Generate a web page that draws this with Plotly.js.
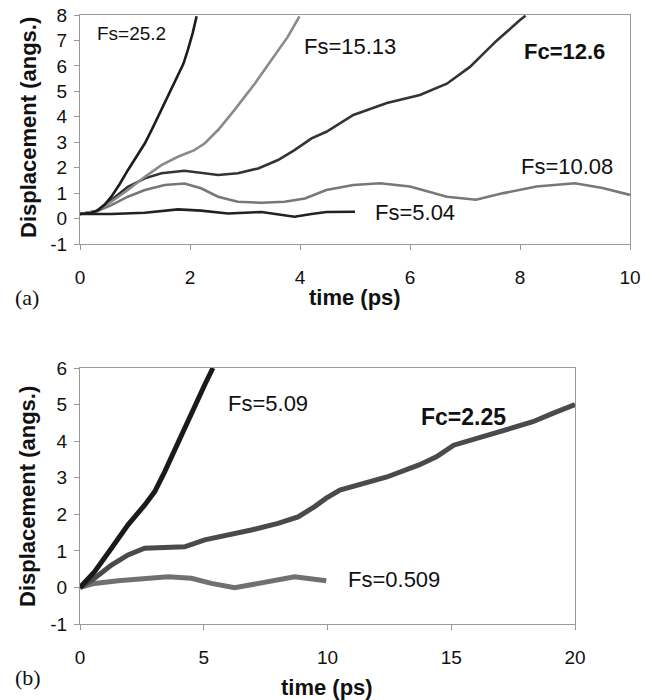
<!DOCTYPE html>
<html>
<head>
<meta charset="utf-8">
<script src="https://cdn.plot.ly/plotly-3.0.1.min.js"></script>
<style>html,body{margin:0;padding:0;background:#fff;}#chart{width:653px;height:700px;}</style>
</head>
<body>
<div id="chart"></div>
<script>
// ---- Panel (a): Fc = 12.6 ----
const a_fs252_x = [0, 0.2, 0.33, 0.45, 0.57, 0.72, 0.87, 1.02, 1.18, 1.33, 1.48, 1.63, 1.78, 1.88, 1.96, 2.05, 2.12];
const a_fs252_y = [0.18, 0.22, 0.33, 0.55, 0.86, 1.35, 1.9, 2.43, 2.96, 3.6, 4.27, 4.92, 5.58, 6.08, 6.62, 7.3, 7.95];

const a_fs1513_x = [0, 0.3, 0.57, 0.87, 1.18, 1.48, 1.78, 2.08, 2.27, 2.51, 2.81, 3.18, 3.48, 3.78, 3.99];
const a_fs1513_y = [0.18, 0.3, 0.66, 1.12, 1.64, 2.1, 2.43, 2.69, 2.96, 3.48, 4.27, 5.31, 6.23, 7.15, 7.95];

const a_fc126_x = [0, 0.3, 0.57, 0.87, 1.18, 1.48, 1.9, 2.2, 2.51, 2.87, 3.24, 3.6, 3.9, 4.21, 4.48, 4.97, 5.58, 6.18, 6.67, 7.09, 7.58, 8.0, 8.1];
const a_fc126_y = [0.18, 0.3, 0.73, 1.25, 1.58, 1.78, 1.88, 1.8, 1.71, 1.78, 1.97, 2.3, 2.69, 3.15, 3.41, 4.07, 4.54, 4.86, 5.3, 5.96, 7.0, 7.8, 7.97];

const a_fs1008_x = [0, 0.3, 0.57, 0.87, 1.18, 1.54, 1.9, 2.2, 2.51, 2.87, 3.3, 3.72, 4.09, 4.48, 4.97, 5.45, 6.0, 6.67, 7.2, 7.7, 8.3, 9.0, 9.5, 10.0];
const a_fs1008_y = [0.18, 0.28, 0.53, 0.86, 1.12, 1.32, 1.38, 1.19, 0.86, 0.66, 0.62, 0.66, 0.79, 1.12, 1.32, 1.39, 1.26, 0.86, 0.74, 1.0, 1.26, 1.39, 1.2, 0.93];

const a_fs504_x = [0, 0.57, 1.18, 1.78, 2.2, 2.69, 3.3, 3.9, 4.21, 4.48, 5.0];
const a_fs504_y = [0.18, 0.18, 0.23, 0.36, 0.31, 0.2, 0.26, 0.07, 0.18, 0.26, 0.27];

// ---- Panel (b): Fc = 2.25 ----
const b_fs509_x = [0, 0.59, 1.27, 1.94, 2.61, 3.02, 3.42, 3.96, 4.5, 5.04, 5.37];
const b_fs509_y = [0, 0.43, 1.07, 1.71, 2.25, 2.62, 3.16, 3.98, 4.8, 5.54, 6.0];

const b_fc225_x = [0, 0.59, 1.27, 1.94, 2.61, 3.29, 4.23, 5.04, 5.98, 6.92, 8.0, 8.81, 9.48, 9.95, 10.5, 11.3, 12.4, 13.7, 14.4, 15.1, 16.2, 17.3, 18.3, 19.1, 20.0];
const b_fc225_y = [0, 0.25, 0.61, 0.89, 1.07, 1.09, 1.11, 1.3, 1.43, 1.57, 1.75, 1.93, 2.21, 2.44, 2.66, 2.8, 3.02, 3.35, 3.57, 3.89, 4.11, 4.36, 4.53, 4.76, 5.0];

const b_fs0509_x = [0, 0.59, 1.54, 2.61, 3.56, 4.5, 5.31, 6.25, 7.33, 8.67, 9.95];
const b_fs0509_y = [0, 0.11, 0.18, 0.25, 0.29, 0.25, 0.11, -0.01, 0.11, 0.29, 0.18];

const a_xticks = [0, 2, 4, 6, 8, 10];
const a_yticks = [-1, 0, 1, 2, 3, 4, 5, 6, 7, 8];
const b_xticks = [0, 5, 10, 15, 20];
const b_yticks = [-1, 0, 1, 2, 3, 4, 5, 6];

const FONT = "Arial, 'Liberation Sans', Helvetica, sans-serif";

function line(x, y, color, width, xa, ya) {
  return {x: x, y: y, type: 'scatter', mode: 'lines', xaxis: xa, yaxis: ya,
          line: {color: color, width: width}, hoverinfo: 'skip'};
}

const data = [
  line(a_fs504_x, a_fs504_y, '#222222', 2.6, 'x', 'y'),
  line(a_fs1008_x, a_fs1008_y, '#777777', 2.6, 'x', 'y'),
  line(a_fc126_x, a_fc126_y, '#333333', 2.6, 'x', 'y'),
  line(a_fs1513_x, a_fs1513_y, '#8a8a8a', 2.6, 'x', 'y'),
  line(a_fs252_x, a_fs252_y, '#1c1c1c', 2.6, 'x', 'y'),
  line(b_fs0509_x, b_fs0509_y, '#707070', 5, 'x2', 'y2'),
  line(b_fc225_x, b_fc225_y, '#4a4a4a', 5, 'x2', 'y2'),
  line(b_fs509_x, b_fs509_y, '#1a1a1a', 5, 'x2', 'y2')
];

function xax(domain, range, ticks, anchor) {
  return {domain: domain, range: range, anchor: anchor, tickvals: ticks, ticktext: ticks.map(String),
    showgrid: false, zeroline: false, showline: true, mirror: true, linecolor: '#999', linewidth: 1,
    ticks: 'outside', ticklen: 5, tickcolor: '#999', ticklabelstandoff: 11,
    tickfont: {family: FONT, size: 19, color: '#111'}, fixedrange: true};
}
function yax(domain, range, ticks, anchor) {
  return {domain: domain, range: range, anchor: anchor, tickvals: ticks, ticktext: ticks.map(String),
    showgrid: false, zeroline: false, showline: true, mirror: true, linecolor: '#999', linewidth: 1,
    ticks: 'outside', ticklen: 5, tickcolor: '#999', ticklabelstandoff: 3,
    tickfont: {family: FONT, size: 19, color: '#111'}, fixedrange: true};
}

const W = 653, H = 700;
const px = v => v / W, py = v => 1 - v / H;

function lbl(text, x, y, xref, yref, size, bold) {
  return {text: bold ? '<b>' + text + '</b>' : text, x: x, y: y, xref: xref, yref: yref,
    xanchor: 'left', yanchor: 'middle', showarrow: false,
    font: {family: FONT, size: size, color: '#111'}};
}

const layout = {
  width: W, height: H,
  margin: {l: 0, r: 0, t: 0, b: 0},
  paper_bgcolor: '#fff', plot_bgcolor: '#fff',
  showlegend: false,
  xaxis: xax([px(80), px(630)], [0, 10], a_xticks, 'y'),
  yaxis: yax([py(244), py(15)], [-1, 8], a_yticks, 'x'),
  xaxis2: xax([px(80), px(575)], [0, 20], b_xticks, 'y2'),
  yaxis2: yax([py(624), py(368)], [-1, 6], b_yticks, 'x2'),
  annotations: [
    lbl('Fs=25.2', 0.28, 7.27, 'x', 'y', 19, false),
    lbl('Fs=15.13', 4.03, 6.78, 'x', 'y', 22, false),
    lbl('Fc=12.6', 8.03, 6.55, 'x', 'y', 22, true),
    lbl('Fs=10.08', 7.98, 2.06, 'x', 'y', 22, false),
    lbl('Fs=5.04', 5.33, 0.24, 'x', 'y', 22, false),
    lbl('Fs=5.09', 5.9, 5.02, 'x2', 'y2', 22, false),
    lbl('Fc=2.25', 13.7, 4.66, 'x2', 'y2', 23, true),
    lbl('Fs=0.509', 10.75, 0.23, 'x2', 'y2', 22, false),
    {text: '<b>Displacement (angs.)</b>', x: px(29), y: py(128), xref: 'paper', yref: 'paper',
     xanchor: 'center', yanchor: 'middle', textangle: -90, showarrow: false,
     font: {family: FONT, size: 22, color: '#111'}},
    {text: '<b>Displacement (angs.)</b>', x: px(27), y: py(497), xref: 'paper', yref: 'paper',
     xanchor: 'center', yanchor: 'middle', textangle: -90, showarrow: false,
     font: {family: FONT, size: 22, color: '#111'}},
    {text: '<b>time (ps)</b>', x: px(355), y: py(297), xref: 'paper', yref: 'paper',
     xanchor: 'center', yanchor: 'middle', showarrow: false,
     font: {family: FONT, size: 22, color: '#111'}},
    {text: '<b>time (ps)</b>', x: px(327), y: py(687), xref: 'paper', yref: 'paper',
     xanchor: 'center', yanchor: 'middle', showarrow: false,
     font: {family: FONT, size: 22, color: '#111'}},
    {text: '(a)', x: px(13), y: py(297), xref: 'paper', yref: 'paper',
     xanchor: 'left', yanchor: 'middle', showarrow: false,
     font: {family: "'Liberation Serif', 'Times New Roman', serif", size: 22, color: '#111'}},
    {text: '(b)', x: px(13), y: py(677), xref: 'paper', yref: 'paper',
     xanchor: 'left', yanchor: 'middle', showarrow: false,
     font: {family: "'Liberation Serif', 'Times New Roman', serif", size: 22, color: '#111'}}
  ]
};

Plotly.newPlot('chart', data, layout, {staticPlot: true, displayModeBar: false});
</script>
</body>
</html>
